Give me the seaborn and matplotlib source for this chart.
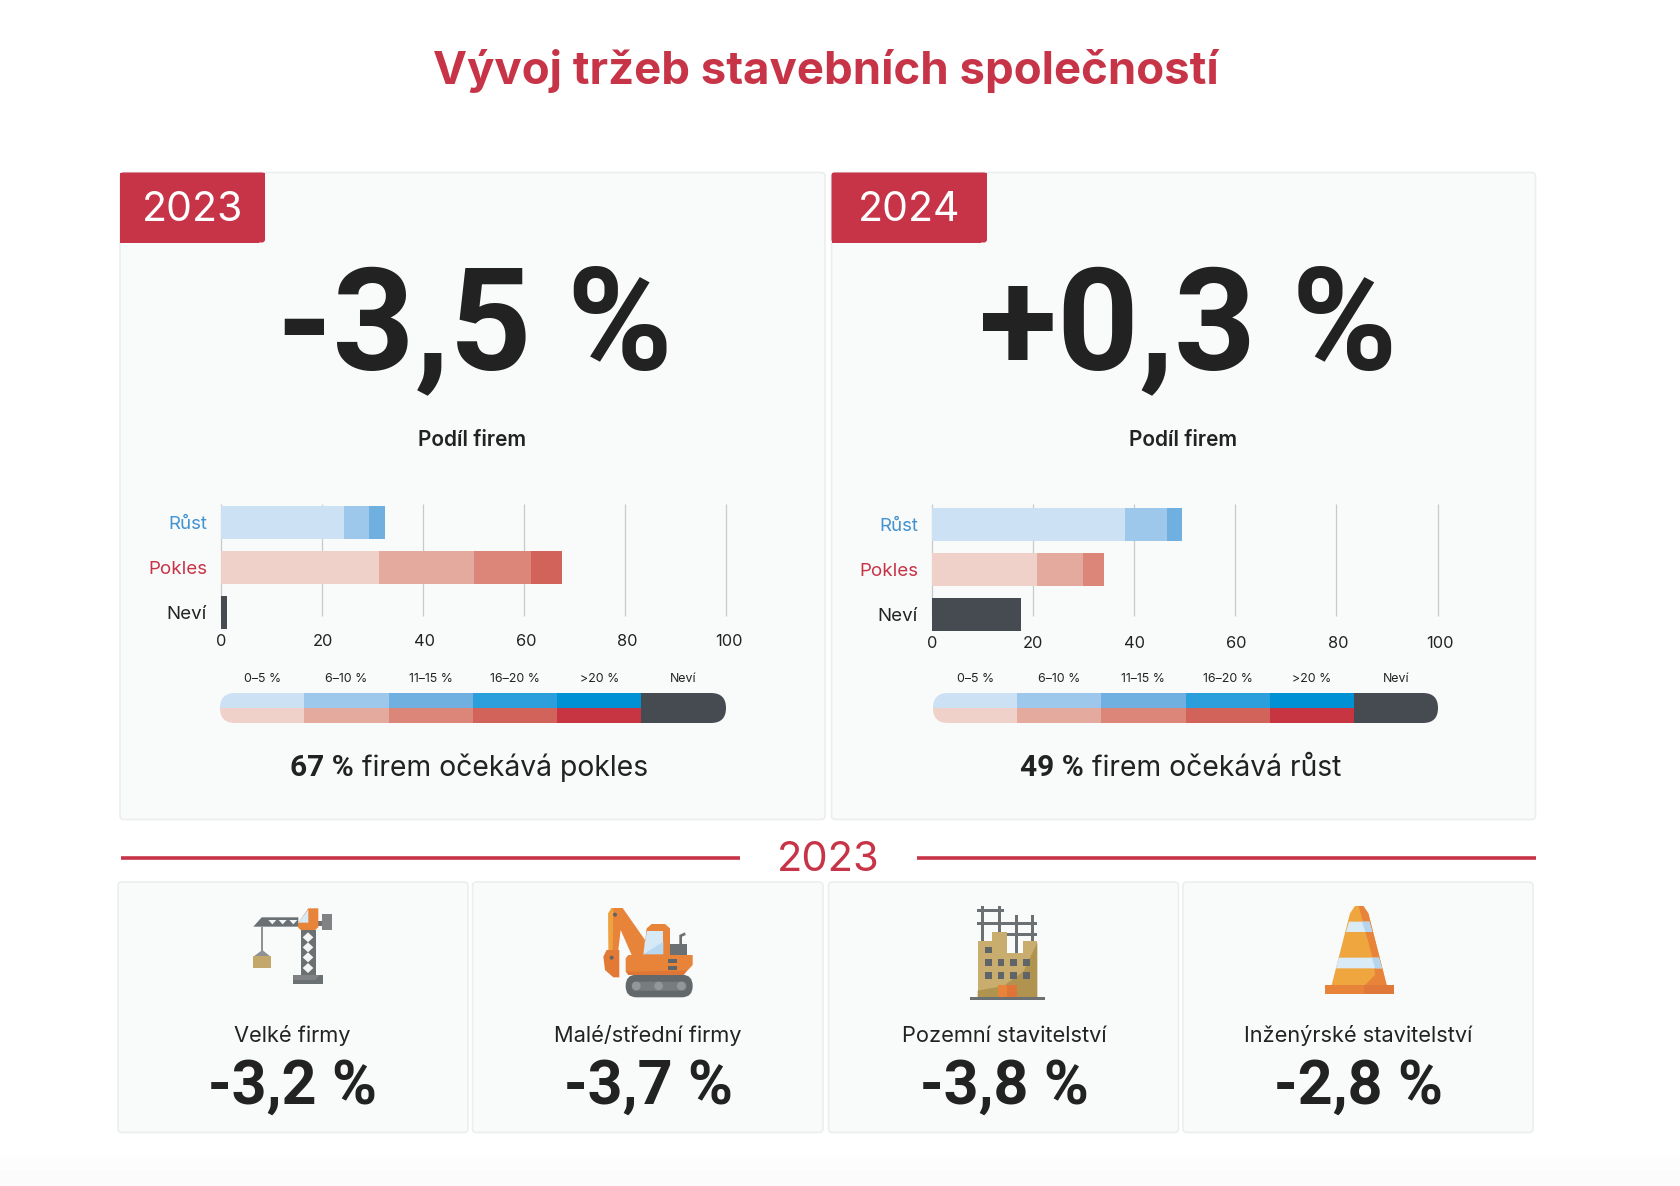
#!/usr/bin/env python3
"""Construction firms revenue infographic, rebuilt with seaborn."""

import matplotlib
matplotlib.use("Agg")
import matplotlib.pyplot as plt
import numpy as np
import pandas as pd
import seaborn as sns
from matplotlib.colors import ListedColormap
from matplotlib.patches import Circle, FancyBboxPatch, Polygon, Rectangle
from matplotlib.transforms import ScaledTranslation

W, H = 1680, 1186

TITLE = "Vývoj tržeb stavebních společností"
YEARS = ["2023", "2024"]
HEADLINES = ["-3,5 %", "+0,3 %"]
SUBTITLE = "Podíl firem"
GROUPS = ["Růst", "Pokles", "Neví"]
TICKS = [0, 20, 40, 60, 80, 100]

RUST_2023 = [24.3, 5.1, 3.1]
POKLES_2023 = [31.4, 18.8, 11.3, 6.1]
NEVI_2023 = [1.2]
RUST_2024 = [38.2, 8.3, 3.0]
POKLES_2024 = [20.8, 9.1, 4.1]
NEVI_2024 = [17.6]

LEGEND_LABELS = ["0–5 %", "6–10 %", "11–15 %", "16–20 %", ">20 %", "Neví"]
BLUES = ["#cde1f4", "#9dc8eb", "#6fb0e1", "#2b9fdb", "#0091d4"]
REDS = ["#f0d1c9", "#e5aa9e", "#db8679", "#d1635b", "#c73543"]
DARK = "#464b52"

NOTE_BOLD = ["67 %", "49 %"]
NOTE_TEXT = ["firem očekává pokles", "firem očekává růst"]

SEGMENT_LABELS = ["Velké firmy", "Malé/střední firmy", "Pozemní stavitelství", "Inženýrské stavitelství"]
SEGMENT_VALUES = ["-3,2 %", "-3,7 %", "-3,8 %", "-2,8 %"]

RED = "#c73447"
INK = "#222222"
CARD = "#f9fafa"
CARD_EDGE = "#eceeee"
ORANGE = "#e8833a"
GREY = "#6b7073"
TAN = "#c9ad6e"

sns.set_theme(style="white")
plt.rcParams["font.family"] = ["Inter", "DejaVu Sans"]
NUMBER_FONT = ["Roboto", "DejaVu Sans"]

fig = plt.figure(figsize=(W / 100, H / 100), dpi=100, facecolor="white")
bg = fig.add_axes([0, 0, 1, 1])
bg.set_xlim(0, W)
bg.set_ylim(H, 0)
bg.axis("off")


def px_axes(left, top, right, bottom):
    ax = fig.add_axes([left / W, 1 - bottom / H, (right - left) / W, (bottom - top) / H])
    ax.patch.set_alpha(0)
    return ax


def card(left, top, right, bottom):
    bg.add_patch(FancyBboxPatch((left + 3, top + 3), right - left - 6, bottom - top - 6,
                                boxstyle="round,pad=3,rounding_size=4",
                                fc=CARD, ec=CARD_EDGE, lw=1.2))


def stacked_bars(ax, rust, pokles, nevi):
    rows = []
    for group, parts in zip(GROUPS, [rust, pokles, nevi]):
        shades = BLUES if group == "Růst" else REDS if group == "Pokles" else [DARK]
        for end, shade in zip(np.cumsum(parts), shades):
            rows.append({"group": group, "end": end, "shade": shade})
    # draw longest first, so that shorter segments sit on top
    for _, row in pd.DataFrame(rows).iloc[::-1].iterrows():
        sns.barplot(data=pd.DataFrame([row]), x="end", y="group", order=GROUPS, orient="h",
                    color=row["shade"], saturation=1, width=33 / 45, linewidth=0,
                    errorbar=None, ax=ax, zorder=3)


def bar_chart(left, right, bar_top, rust, pokles, nevi, label_drift):
    bottom = bar_top + 123
    ax = px_axes(left, 504, right, bottom)
    stacked_bars(ax, rust, pokles, nevi)
    ax.set_xlim(0, 100)
    y_top = -(bar_top + 16.5 - 504) / 45
    y_bottom = 2 + 16.5 / 45
    ax.set_ylim(y_bottom, y_top)
    grid_end = y_top + (616 - 504) / 45
    ax.vlines(TICKS, y_top, grid_end, color="#c9cbcb", lw=0.9, zorder=1, clip_on=False)
    ax.set_xlabel("")
    ax.set_ylabel("")
    ax.set_xticks(TICKS)
    ax.set_xticklabels([str(t) for t in TICKS], fontsize=11.8, color=INK)
    ax.tick_params(axis="x", length=0, pad=3.8)
    ax.tick_params(axis="y", length=0, pad=10, labelsize=13.5)
    # tick numbers sit a little to the right of their gridlines in the original
    for value, lbl in zip(TICKS, ax.get_xticklabels()):
        shift = ScaledTranslation(value * label_drift / 100, 0, fig.dpi_scale_trans)
        lbl.set_transform(lbl.get_transform() + shift)
    for tick, colour in zip(ax.get_yticklabels(), ["#4493d1", RED, INK]):
        tick.set_color(colour)
    sns.despine(ax=ax, left=True, bottom=True)
    return ax


def legend_bar(left, right):
    ax = px_axes(left, 692.5, right, 722.5)
    cells = np.array([np.arange(6), np.arange(6, 12)])
    colours = BLUES + [DARK] + REDS + [DARK]
    sns.heatmap(cells, cmap=ListedColormap(colours), cbar=False, ax=ax, linewidths=0,
                xticklabels=LEGEND_LABELS, yticklabels=False)
    ax.xaxis.tick_top()
    ax.tick_params(axis="x", length=0, pad=5.5, labelsize=8.9, rotation=0, labelcolor=INK)
    # corner radius of 15 px: one cell is about 84 px wide and 15 px high
    radius = 15 / ((right - left) / 6)
    pill = FancyBboxPatch((0, 0), 6, 2, boxstyle=f"round,pad=0,rounding_size={radius}",
                          mutation_aspect=1 / radius, transform=ax.transData)
    ax.collections[0].set_clip_path(pill)


def mixed_note(cx, y, bold, rest):
    rend = fig.canvas.get_renderer()
    a = bg.text(0, y, bold, fontsize=21.5, fontweight="bold", color=INK, va="center", family=NUMBER_FONT)
    b = bg.text(0, y, rest, fontsize=20.4, color=INK, va="center")
    wa = a.get_window_extent(rend).width
    wb = b.get_window_extent(rend).width
    start = cx - (wa + 8 + wb) / 2
    a.set_x(start)
    b.set_x(start + wa + 8)


def icon_mapper(ox, oy):
    # icons are sketched in 3x crop coordinates of the original picture
    def to_px(points):
        return [(ox + x / 3, oy + y / 3) for x, y in points]
    return to_px


def poly(to_px, points, colour):
    bg.add_patch(Polygon(to_px(points), closed=True, fc=colour, ec="none"))


def box(to_px, x0, y0, x1, y1, colour):
    poly(to_px, [(x0, y0), (x1, y0), (x1, y1), (x0, y1)], colour)


def dot(to_px, x, y, r, colour):
    (px, py), = to_px([(x, y)])
    bg.add_patch(Circle((px, py), r / 3, fc=colour, ec="none"))


def draw_crane():
    t = icon_mapper(230, 900)
    box(t, 190, 225, 279, 252, GREY)
    poly(t, [(190, 225), (270, 225), (255, 240), (190, 240)], "#808284")
    box(t, 212, 90, 257, 225, GREY)
    for yc in [112, 142, 172, 204]:
        poly(t, [(234, yc - 15), (250, yc), (234, yc + 15), (218, yc)], "#f4f6f6")
    poly(t, [(70, 80), (95, 52), (205, 52), (205, 80)], GREY)
    for xc in [127, 158, 190]:
        poly(t, [(xc - 12, 60), (xc + 12, 60), (xc, 73)], "#f4f6f6")
    box(t, 265, 62, 276, 78, GREY)
    box(t, 275, 42, 305, 91, "#808284")
    poly(t, [(204, 70), (235, 25), (265, 25), (265, 82), (255, 90), (212, 90), (204, 82)], ORANGE)
    poly(t, [(205, 68), (235, 28), (235, 68)], "#d6e9f7")
    box(t, 94, 80, 100, 155, "#8f9294")
    poly(t, [(97, 150), (122, 170), (70, 170)], "#8f9294")
    box(t, 70, 168, 122, 203, "#c4a76a")


def draw_excavator():
    t = icon_mapper(230, 900)
    (x0, y0), (x1, y1) = t([(1187, 224), (1388, 292)])
    bg.add_patch(FancyBboxPatch((x0 + 11, y0 + 11), x1 - x0 - 22, y1 - y0 - 22,
                                boxstyle="round,pad=11", fc="#63686b", ec="none"))
    (x0, y0), (x1, y1) = t([(1205, 245), (1370, 272)])
    bg.add_patch(FancyBboxPatch((x0 + 4, y0 + 4), x1 - x0 - 8, y1 - y0 - 8,
                                boxstyle="round,pad=4", fc="#777c7f", ec="none"))
    for xc in [1219, 1286, 1354]:
        dot(t, xc, 258, 13, "#93979a")
    poly(t, [(1348, 135), (1348, 105), (1365, 97), (1367, 105), (1356, 110), (1356, 135)], GREY)
    box(t, 1320, 132, 1372, 168, GREY)
    poly(t, [(1250, 85), (1265, 72), (1305, 72), (1320, 85), (1320, 170), (1240, 170)], ORANGE)
    poly(t, [(1250, 92), (1300, 92), (1300, 163), (1240, 163)], "#d6e9f7")
    poly(t, [(1240, 163), (1300, 125), (1300, 163)], "#b8d7f0")
    poly(t, [(1187, 175), (1195, 165), (1388, 165), (1388, 195), (1360, 225), (1195, 225), (1187, 215)], ORANGE)
    poly(t, [(1190, 215), (1370, 212), (1360, 225), (1195, 225)], "#de7636")
    box(t, 1315, 178, 1342, 188, "#5f6468")
    box(t, 1315, 199, 1342, 210, "#5f6468")
    poly(t, [(1135, 40), (1145, 24), (1178, 24), (1245, 120), (1240, 165), (1205, 165), (1172, 90), (1165, 150), (1136, 150)], ORANGE)
    poly(t, [(1135, 40), (1145, 24), (1150, 24), (1148, 150), (1136, 150)], "#f0a33c")
    poly(t, [(1120, 170), (1130, 150), (1168, 150), (1168, 232), (1150, 232), (1125, 210)], "#e27a36")
    dot(t, 1155, 44, 6, "#5f6468")
    dot(t, 1145, 173, 6, "#5f6468")


def draw_building():
    t = icon_mapper(950, 900)
    for x0, y0, x1, y1 in [(92, 18, 102, 125), (143, 18, 153, 95), (195, 45, 205, 160),
                           (243, 45, 253, 125), (82, 26, 162, 36), (82, 65, 262, 75),
                           (170, 98, 262, 108)]:
        box(t, x0, y0, x1, y1, GREY)
    poly(t, [(83, 123), (125, 123), (125, 95), (172, 95), (172, 160), (218, 160), (218, 123),
             (262, 123), (262, 292), (83, 292)], TAN)
    poly(t, [(83, 272), (160, 258), (220, 215), (262, 128), (262, 292), (83, 292)], "#b0934f")
    for xw, yw in [(105, 140), (105, 178), (143, 178), (181, 178), (219, 178),
                   (105, 216), (143, 216), (181, 216), (219, 216)]:
        box(t, xw, yw, xw + 20, yw + 20, "#5f6468")
    box(t, 144, 255, 172, 292, ORANGE)
    box(t, 172, 255, 200, 292, "#e07436")
    box(t, 60, 292, 285, 301, GREY)


def draw_cone():
    t = icon_mapper(950, 900)
    box(t, 1124, 255, 1242, 283, ORANGE)
    box(t, 1242, 255, 1332, 283, "#e0783a")
    poly(t, [(1145, 255), (1200, 40), (1215, 18), (1240, 18), (1255, 40), (1310, 255)], "#efa63f")
    poly(t, [(1226, 18), (1240, 18), (1255, 40), (1310, 255), (1245, 255), (1275, 225), (1272, 190)], ORANGE)
    poly(t, [(1197, 65), (1258, 65), (1267, 96), (1188, 96)], "#d9ebf7")
    poly(t, [(1236, 65), (1258, 65), (1267, 96), (1246, 96)], "#b5d5ee")
    poly(t, [(1166, 173), (1287, 173), (1296, 205), (1158, 205)], "#d9ebf7")
    poly(t, [(1266, 173), (1287, 173), (1296, 205), (1275, 205)], "#b5d5ee")


def main() -> None:
    # very faint fade at the foot of the page
    bg.add_patch(Rectangle((0, 1156), W, 14, fc="#fdfdfd", ec="none"))
    bg.add_patch(Rectangle((0, 1170), W, 16, fc="#fbfbfb", ec="none"))

    bg.text(826, 71, TITLE, fontsize=32.8, fontweight="bold", color=RED, ha="center", va="center")

    # two top cards
    for left, right, badge_right, year, headline, cx, sub_cx in [
        (120, 825, 265, YEARS[0], HEADLINES[0], 475, 472.5),
        (831.5, 1535.5, 987, YEARS[1], HEADLINES[1], 1188, 1183),
    ]:
        card(left, 172.5, right, 819.5)
        width = badge_right - left
        bg.add_patch(FancyBboxPatch((left, 172.5), width, 70,
                                    boxstyle="round,pad=0,rounding_size=3", fc=RED, ec="none"))
        bg.add_patch(Rectangle((left, 172.5), width, 64, fc=RED, ec="none"))
        bg.add_patch(Rectangle((left, 172.5), width - 6, 70, fc=RED, ec="none"))
        bg.text((left + badge_right) / 2, 210, year, fontsize=29.5, color="white",
                ha="center", va="center")
        bg.text(cx, 369, headline, fontsize=103, fontweight="bold", color=INK,
                ha="center", va="baseline", family=NUMBER_FONT)
        bg.text(sub_cx, 440, SUBTITLE, fontsize=15, fontweight="semibold",
                color=INK, ha="center", va="center")

    bar_chart(221, 725.5, 506, RUST_2023, POKLES_2023, NEVI_2023, 0.035)
    bar_chart(931.8, 1437.6, 508, RUST_2024, POKLES_2024, NEVI_2024, 0.02)
    legend_bar(220, 725.7)
    legend_bar(933, 1438)

    mixed_note(469, 768, NOTE_BOLD[0], NOTE_TEXT[0])
    mixed_note(1180.5, 768, NOTE_BOLD[1], NOTE_TEXT[1])

    # divider
    bg.plot([121, 739.5], [858, 858], color=RED, lw=2.6, solid_capstyle="butt")
    bg.plot([917, 1535.5], [858, 858], color=RED, lw=2.6, solid_capstyle="butt")
    bg.text(828, 860, YEARS[0], fontsize=30, color=RED, ha="center", va="center")

    # segment cards
    for left, right, cx, label, value in zip(
        [118, 472.5, 828.5, 1183], [468, 823, 1178.5, 1533],
        [292.5, 648, 1004, 1358.5], SEGMENT_LABELS, SEGMENT_VALUES,
    ):
        card(left, 882, right, 1132.5)
        bg.text(cx, 1036, label, fontsize=15.7, color=INK, ha="center", va="center")
        bg.text(cx, 1103.5, value, fontsize=44, fontweight="bold", color=INK,
                ha="center", va="baseline", family=NUMBER_FONT)

    draw_crane()
    draw_excavator()
    draw_building()
    draw_cone()

    fig.savefig("out.png", dpi=100)


if __name__ == "__main__":
    main()
